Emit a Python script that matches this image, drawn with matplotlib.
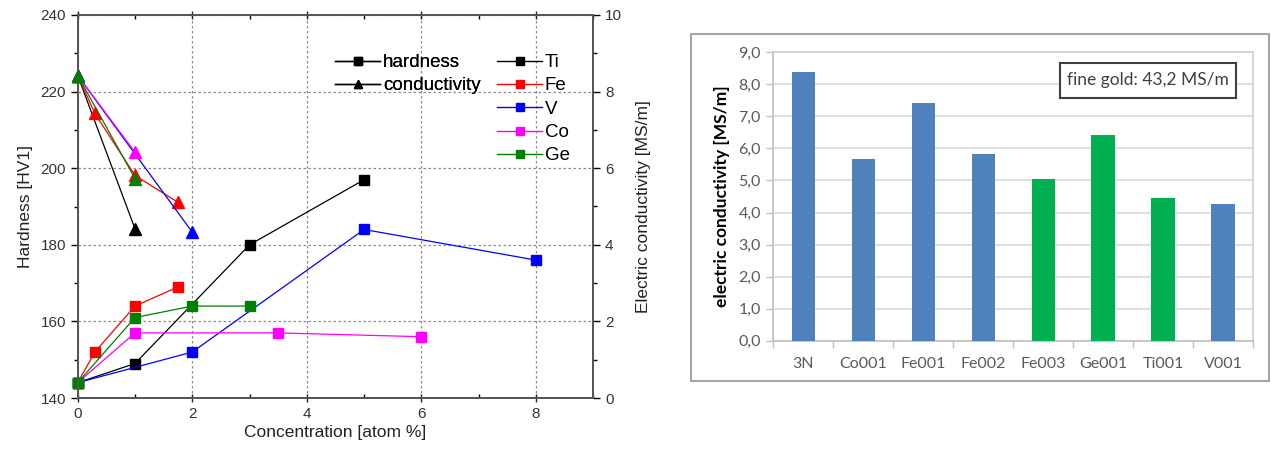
import matplotlib
matplotlib.use("Agg")
import matplotlib.pyplot as plt
from matplotlib.lines import Line2D
from matplotlib.patches import Rectangle
from matplotlib.ticker import MultipleLocator, FuncFormatter

# ---------------- data: left chart ----------------
elements = ["Ti", "Fe", "V", "Co", "Ge"]
colors = {"Ti": "#000000", "Fe": "#FF0000", "V": "#0000FF", "Co": "#FF00FF", "Ge": "#008000"}

hard_x = {
    "Ti": [0, 1, 3, 5],
    "Fe": [0, 0.3, 1, 1.75],
    "V": [0, 2, 5, 8],
    "Co": [0, 1, 3.5, 6],
    "Ge": [0, 1, 2, 3],
}
hard_y = {
    "Ti": [144, 149, 180, 197],
    "Fe": [144, 152, 164, 169],
    "V": [144, 152, 184, 176],
    "Co": [144, 157, 157, 156],
    "Ge": [144, 161, 164, 164],
}
cond_x = {
    "Ti": [0, 1],
    "Fe": [0, 0.3, 1, 1.75],
    "V": [0, 2],
    "Co": [0, 1],
    "Ge": [0, 1],
}
cond_y = {
    "Ti": [8.42, 4.42],
    "Fe": [8.42, 7.43, 5.81, 5.11],
    "V": [8.42, 4.33],
    "Co": [8.42, 6.42],
    "Ge": [8.42, 5.73],
}

# ---------------- data: right chart ----------------
samples = ["3N", "Co001", "Fe001", "Fe002", "Fe003", "Ge001", "Ti001", "V001"]
conductivity = [8.37, 5.68, 7.41, 5.84, 5.05, 6.43, 4.44, 4.27]
bar_colors = ["#4F81BD", "#4F81BD", "#4F81BD", "#4F81BD", "#00B050", "#00B050", "#00B050", "#4F81BD"]

plt.rcParams["font.family"] = ["Liberation Sans", "DejaVu Sans"]

W, H = 1271, 450
fig = plt.figure(figsize=(W / 100, H / 100), dpi=100)

def fx(px):
    return px / W

def fy(py):
    return 1 - py / H

# ---------------- left chart ----------------
L, R, T, B = 77.7, 593.3, 15.0, 398.0
ax = fig.add_axes([fx(L), fy(B), fx(R) - fx(L), fy(T) - fy(B)])
ax2 = ax.twinx()

ax.set_xlim(0, 9)
ax.set_ylim(140, 240)
ax2.set_ylim(0, 10)

for el in elements:
    c = colors[el]
    ax.plot(hard_x[el], hard_y[el], color=c, lw=0.9, marker="s", ms=7,
            mec=c, mfc=c, zorder=3, clip_on=False)
    ax2.plot(cond_x[el], cond_y[el], color=c, lw=0.9, marker="^", ms=8,
             mec=c, mfc=c, zorder=3, clip_on=False)

ax.xaxis.set_major_locator(MultipleLocator(2))
ax.xaxis.set_minor_locator(MultipleLocator(1))
ax.yaxis.set_major_locator(MultipleLocator(20))
ax.yaxis.set_minor_locator(MultipleLocator(10))
ax2.yaxis.set_major_locator(MultipleLocator(2))
ax2.yaxis.set_minor_locator(MultipleLocator(1))

ax.grid(True, which="major", color="#8a8a8a", ls=(0, (2, 2)), lw=0.9)
ax.set_axisbelow(True)

ax.tick_params(axis="x", which="major", direction="inout", length=6, width=1,
               labelsize=11, top=True, colors="#222222", labelcolor="#333333")
ax.tick_params(axis="x", which="minor", direction="in", length=3, width=1, top=True)
ax.tick_params(axis="y", which="major", direction="out", length=5, width=1,
               labelsize=11, labelcolor="#333333")
ax.tick_params(axis="y", which="minor", direction="out", length=3, width=1)
ax2.tick_params(axis="y", which="major", direction="out", length=5, width=1,
                labelsize=11, labelcolor="#333333")
ax2.tick_params(axis="y", which="minor", direction="out", length=3, width=1)

for a in (ax, ax2):
    for s in a.spines.values():
        s.set_color("#555555")
        s.set_linewidth(1.3)

ax.set_xlabel("Concentration [atom %]", fontsize=12.5, labelpad=3, color="#222222")
ax.set_ylabel("Hardness [HV1]", fontsize=12.5, labelpad=5, color="#222222")
ax2.set_ylabel("Electric conductivity [MS/m]", fontsize=12.5, labelpad=10, color="#222222")

# legends
anchor_y = 1 - (54 - T) / (B - T)
h1 = [Line2D([], [], color="black", lw=1, marker="s", ms=6),
      Line2D([], [], color="black", lw=1, marker="^", ms=6)]
leg1 = ax.legend(h1, ["hardness", "conductivity"], loc="upper left",
                 bbox_to_anchor=((335 - L) / (R - L), anchor_y),
                 frameon=False, fontsize=13.5, handlelength=2.4, handletextpad=0.15,
                 labelspacing=0.33, borderaxespad=0, borderpad=0)
ax.add_artist(leg1)
h2 = [Line2D([], [], color=colors[el], lw=1, marker="s", ms=6) for el in elements]
leg2 = ax2.legend(h2, elements, loc="upper left",
                  bbox_to_anchor=((497 - L) / (R - L), anchor_y),
                  frameon=False, fontsize=13.5, handlelength=2.4, handletextpad=0.15,
                  labelspacing=0.33, borderaxespad=0, borderpad=0)

# ---------------- right chart ----------------
frame = Rectangle((fx(691.3), fy(381.0)), fx(1268.8) - fx(691.3), fy(34.3) - fy(381.0),
                  transform=fig.transFigure, fill=False, edgecolor="#A6A6A6", lw=1.5)
fig.add_artist(frame)

BL, BR, BT, BB = 773.5, 1253.0, 52.3, 340.7
bx = fig.add_axes([fx(BL), fy(BB), fx(BR) - fx(BL), fy(BT) - fy(BB)])
xpos = list(range(len(samples)))
bx.bar(xpos, conductivity, width=0.39, color=bar_colors, zorder=3)
bx.set_xlim(-0.5, len(samples) - 0.5)
bx.set_ylim(0, 9)
bx.yaxis.set_major_locator(MultipleLocator(1))
bx.yaxis.set_major_formatter(FuncFormatter(lambda v, p: f"{v:.1f}".replace(".", ",")))
bx.grid(True, axis="y", color="#D9D9D9", lw=1.2, zorder=0)
bx.set_axisbelow(True)
bx.set_xticks(xpos)
bx.set_xticklabels(samples)
bx.set_xticks([i + 0.5 for i in range(-1, len(samples))], minor=True)
bx.tick_params(axis="x", which="major", length=0, pad=12, labelsize=11.5,
               labelcolor="#595959")
bx.tick_params(axis="x", which="minor", length=5, width=1, color="#BFBFBF", direction="out")
bx.tick_params(axis="y", length=5, width=1, color="#BFBFBF", labelsize=11.5,
               labelcolor="#595959", pad=4)
for lab in bx.get_xticklabels() + bx.get_yticklabels():
    lab.set_family(["Lato", "DejaVu Sans"])
for s in bx.spines.values():
    s.set_color("#D0D0D0")
    s.set_linewidth(1.2)
bx.spines["left"].set_color("#BFBFBF")
bx.spines["bottom"].set_color("#BFBFBF")
bx.set_ylabel("electric conductivity [MS/m]", fontsize=12.5, fontweight="bold",
              family=["Lato", "DejaVu Sans"], labelpad=6)

# annotation box
x0 = (1060 - BL) / (BR - BL)
x1 = (1236 - BL) / (BR - BL)
y0 = 1 - (98 - BT) / (BB - BT)
y1 = 1 - (63 - BT) / (BB - BT)
bx.add_patch(Rectangle((x0, y0), x1 - x0, y1 - y0, transform=bx.transAxes,
                       facecolor="white", edgecolor="#404040", lw=1.5, zorder=5))
bx.text((x0 + x1) / 2, (y0 + y1) / 2, "fine gold: 43,2 MS/m", transform=bx.transAxes,
        ha="center", va="center", fontsize=12.5, color="#404040",
        family=["Lato", "DejaVu Sans"], zorder=6)

fig.savefig("out.png", dpi=100)
